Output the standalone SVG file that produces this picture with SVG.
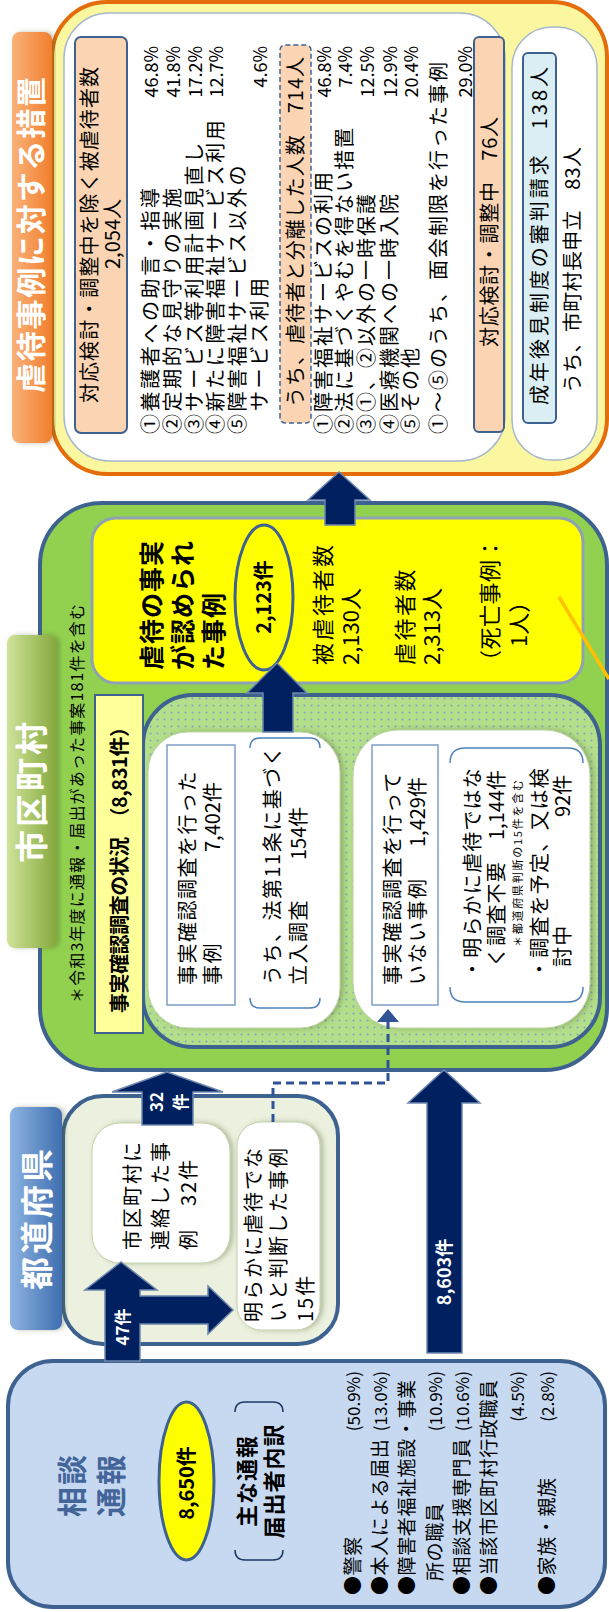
<svg xmlns="http://www.w3.org/2000/svg" width="609" height="1612" viewBox="0 0 609 1612">
<style>
.j{font-family:"Noto Sans CJK JP","Noto Sans CJK SC",sans-serif;fill:#000}
.b{font-weight:bold}
.f20{font-size:20px}
.l1{font-size:20px;letter-spacing:2.6px}
.l2{font-size:20px;letter-spacing:2px}
.pc{font-size:18px;text-anchor:end}
.s19{font-size:19px;letter-spacing:0.6px}
.sp{font-size:17px;text-anchor:end}
.m{text-anchor:middle}
.arr{fill:#002060;stroke:#6d87ad;stroke-width:1.5}
.wb{fill:#fff;stroke:#a6b8cc;stroke-width:1.5}
.br{fill:none;stroke:#4f81bd;stroke-width:1.5}
</style>
<defs>
<linearGradient id="gOr" x1="0" y1="0" x2="0" y2="1"><stop offset="0" stop-color="#fab27a"/><stop offset="1" stop-color="#f07f2c"/></linearGradient>
<linearGradient id="gGr" x1="0" y1="0" x2="0" y2="1"><stop offset="0" stop-color="#d0e39a"/><stop offset="1" stop-color="#84a83c"/></linearGradient>
<linearGradient id="gBl" x1="0" y1="0" x2="0" y2="1"><stop offset="0" stop-color="#8db4e2"/><stop offset="1" stop-color="#3f6fb0"/></linearGradient>
<pattern id="dots" width="7" height="7" patternUnits="userSpaceOnUse"><rect width="7" height="7" fill="#b3de8a"/><circle cx="3.5" cy="3.5" r="0.9" fill="#7f9fc4"/></pattern>
<filter id="sh" x="-10%" y="-10%" width="120%" height="120%"><feDropShadow dx="0" dy="3" stdDeviation="2.5" flood-color="#4a5a30" flood-opacity="0.35"/></filter>
</defs>
<g transform="translate(0,1612) rotate(-90)">

<g id="soudan">
<rect x="5" y="8" width="246" height="597" rx="45" fill="#c6d9f1" stroke="#3e6290" stroke-width="4"/>
<text class="j b" x="127" y="83" font-size="30" letter-spacing="2" style="fill:#44659a" text-anchor="middle">相談</text>
<text class="j b" x="127" y="122" font-size="30" letter-spacing="2" style="fill:#44659a" text-anchor="middle">通報</text>
<ellipse cx="131" cy="186.5" rx="79" ry="27.5" fill="#ffff00" stroke="#3e6290" stroke-width="3"/>
<text class="j b m" x="129" y="194" font-size="20">8,650件</text>
<path class="br" style="stroke:#1f3864" d="M62,235 Q52,235 52,245 L52,273 Q52,283 62,283 M200,235 Q210,235 210,245 L210,273 Q210,283 200,283"/>
<text class="j b m" x="131" y="255" font-size="22" letter-spacing="1">主な通報</text>
<text class="j b m" x="131" y="282" font-size="22" letter-spacing="1">届出者内訳</text>
<text class="j s19" x="17" y="360">●警察</text>
<text class="j s19" x="17" y="387">●本人による届出</text>
<text class="j s19" x="17" y="414">●障害者福祉施設・事業</text>
<text class="j s19" x="31" y="442">所の職員</text>
<text class="j s19" x="17" y="469">●相談支援専門員</text>
<text class="j s19" x="17" y="496">●当該市区町村行政職員</text>
<text class="j s19" x="17" y="554">●家族・親族</text>
<text class="j sp" x="241" y="360">(50.9%)</text>
<text class="j sp" x="241" y="387">(13.0%)</text>
<text class="j sp" x="241" y="442">(10.9%)</text>
<text class="j sp" x="241" y="469">(10.6%)</text>
<text class="j sp" x="241" y="524">(4.5%)</text>
<text class="j sp" x="241" y="554">(2.8%)</text>
</g>

<g id="todofuken">
<rect x="268" y="63" width="248" height="275" rx="40" fill="#ebf1de" stroke="#3e6290" stroke-width="4"/>
<rect x="282" y="10" width="223" height="52" rx="8" fill="url(#gBl)" filter="url(#sh)"/>
<text class="j b m" x="394" y="49" font-size="33" letter-spacing="3" style="fill:#fff">都道府県</text>
<rect x="349" y="92" width="140" height="138" rx="28" fill="#fff" stroke="#c4d1a8" stroke-width="1" filter="url(#sh)"/>
<text class="j f20" x="362" y="140" letter-spacing="2">市区町村に</text>
<text class="j f20" x="362" y="168" letter-spacing="2">連絡した事</text>
<text class="j f20" x="362" y="196" letter-spacing="2">例　32件</text>
<rect x="282" y="237" width="208" height="83" rx="24" fill="#fff" stroke="#c4d1a8" stroke-width="1" filter="url(#sh)"/>
<text class="j f20" x="290" y="261" letter-spacing="2">明らかに虐待でな</text>
<text class="j f20" x="290" y="286" letter-spacing="2">いと判断した事例</text>
<text class="j f20" x="290" y="313" letter-spacing="2">15件</text>
</g>

<g id="shikuchoson">
<rect x="542" y="40" width="567" height="567" rx="62" fill="#92d050" stroke="#3e6290" stroke-width="4"/>
<rect x="664" y="7" width="313" height="50" rx="8" fill="url(#gGr)" filter="url(#sh)"/>
<text class="j b m" x="821" y="44" font-size="33" letter-spacing="3" style="fill:#fff">市区町村</text>
<text class="j" x="609" y="83" font-size="16" textLength="399" lengthAdjust="spacing">＊令和3年度に通報・届出があった事案181件を含む</text>
<rect x="565" y="143" width="352" height="457" rx="50" fill="url(#dots)" stroke="#3e6290" stroke-width="4"/>
<rect x="579" y="95" width="338" height="48" fill="#ffff99" stroke="#3e6290" stroke-width="2"/>
<text class="j b" x="599" y="127" font-size="20" textLength="296" lengthAdjust="spacing">事実確認調査の状況　（8,831件）</text>

<rect x="584" y="148" width="296" height="192" rx="40" fill="#fff" stroke="#bcd3a0" stroke-width="1" filter="url(#sh)"/>
<rect x="607" y="167" width="260" height="68" fill="#fff" stroke="#7f9fc7" stroke-width="1.5"/>
<text class="j f20" x="627" y="195" letter-spacing="1.5">事実確認調査を行った</text>
<text class="j f20" x="627" y="220" letter-spacing="1.5">事例</text>
<text class="j f20" x="760" y="220">7,402件</text>
<path class="br" d="M614,250 Q604,250 604,260 L604,310 Q604,320 614,320 M864,250 Q874,250 874,260 L874,310 Q874,320 864,320"/>
<text class="j f20" x="627" y="280" letter-spacing="1.5">うち、法第11条に基づく</text>
<text class="j f20" x="627" y="306" letter-spacing="1.5">立入調査</text>
<text class="j f20" x="752" y="306">154件</text>

<rect x="584" y="353" width="298" height="237" rx="45" fill="#fff" stroke="#bcd3a0" stroke-width="1" filter="url(#sh)"/>
<rect x="607" y="372" width="260" height="66" fill="#fff" stroke="#7f9fc7" stroke-width="1.5"/>
<text class="j f20" x="627" y="400" letter-spacing="1.5">事実確認調査を行って</text>
<text class="j f20" x="627" y="425" letter-spacing="1.5">いない事例</text>
<text class="j f20" x="765" y="425">1,429件</text>
<path class="br" d="M625,450 Q610,450 610,465 L610,568 Q610,583 625,583 M849,450 Q864,450 864,465 L864,568 Q864,583 849,583"/>
<text class="j f20" x="633" y="480" letter-spacing="1.2">・明らかに虐待ではな</text>
<text class="j f20" x="645" y="504" letter-spacing="1.2">く調査不要</text>
<text class="j f20" x="772" y="504">1,144件</text>
<text class="j" x="665" y="522" font-size="11" textLength="167" lengthAdjust="spacing">＊都道府県判断の15件を含む</text>
<text class="j f20" x="633" y="547" letter-spacing="1.2">・調査を予定、又は検</text>
<text class="j f20" x="645" y="570" letter-spacing="1.2">討中</text>
<text class="j f20" x="795" y="570">92件</text>

<rect x="929" y="92" width="165" height="491" rx="24" fill="#ffff00" stroke="#8da2b5" stroke-width="3"/>
<text class="j b" x="942" y="161" font-size="25" letter-spacing="1">虐待の事実</text>
<text class="j b" x="942" y="192" font-size="25" letter-spacing="1">が認められ</text>
<text class="j b" x="942" y="223" font-size="25" letter-spacing="1">た事例</text>
<ellipse cx="1014.5" cy="264" rx="72.5" ry="29" fill="#ffff00" stroke="#3e6290" stroke-width="3"/>
<text class="j b m" x="1015" y="271" font-size="20">2,123件</text>
<text class="j" x="947" y="331" font-size="22" letter-spacing="2.5">被虐待者数</text>
<text class="j" x="947" y="359" font-size="22">2,130人</text>
<text class="j" x="947" y="413" font-size="22" letter-spacing="2.5">虐待者数</text>
<text class="j" x="947" y="440" font-size="22">2,313人</text>
<text class="j" x="940" y="498" font-size="22" letter-spacing="0.5">（死亡事例：</text>
<text class="j" x="965" y="527" font-size="22">1人）</text>
<line x1="1015" y1="559" x2="933" y2="609" stroke="#ffc000" stroke-width="3.5"/>
</g>

<g id="sochi">
<rect x="1138" y="52" width="472" height="555" rx="55" fill="#fbf7a0" stroke="#e46c0a" stroke-width="4"/>
<rect x="1151" y="64" width="448" height="441" rx="45" class="wb"/>
<rect x="1152" y="512" width="433" height="85" rx="40" class="wb"/>
<rect x="1169" y="12" width="411" height="40" rx="8" fill="url(#gOr)" filter="url(#sh)"/>
<text class="j b m" x="1377" y="42" font-size="30" textLength="316" lengthAdjust="spacing" style="fill:#fff">虐待事例に対する措置</text>

<rect x="1179" y="75" width="396" height="52" rx="6" fill="#fbd4b4" stroke="#3e6290" stroke-width="2"/>
<text class="j m" x="1377" y="97" font-size="20" textLength="336" lengthAdjust="spacing">対応検討・調整中を除く被虐待者数</text>
<text class="j m" x="1378" y="120" font-size="20">2,054人</text>

<text class="j l1" x="1178" y="158">①養護者への助言・指導</text>
<text class="j l1" x="1178" y="180">②定期的な見守りの実施</text>
<text class="j l1" x="1178" y="202">③サービス等利用計画見直し</text>
<text class="j l1" x="1178" y="223">④新たに障害福祉サービス利用</text>
<text class="j l1" x="1178" y="245">⑤障害福祉サービス以外の</text>
<text class="j l1" x="1201" y="267">サービス利用</text>
<text class="j pc" x="1566" y="158">46.8%</text>
<text class="j pc" x="1566" y="180">41.8%</text>
<text class="j pc" x="1566" y="202">17.2%</text>
<text class="j pc" x="1566" y="223">12.7%</text>
<text class="j pc" x="1566" y="267">4.6%</text>

<rect x="1189" y="280" width="378" height="31" rx="5" fill="#fbd4b4" stroke="#3e6290" stroke-width="1.5" stroke-dasharray="5 3"/>
<text class="j" x="1205" y="303" font-size="20" textLength="350" lengthAdjust="spacing">うち、虐待者と分離した人数　714人</text>

<text class="j l2" x="1178" y="331">①障害福祉サービスの利用</text>
<text class="j l2" x="1178" y="352">②法に基づくやむを得ない措置</text>
<text class="j l2" x="1178" y="374">③①、②以外の一時保護</text>
<text class="j l2" x="1178" y="397">④医療機関への一時入院</text>
<text class="j l2" x="1178" y="418">⑤その他</text>
<text class="j l2" x="1178" y="446">①〜⑤のうち、面会制限を行った事例</text>
<text class="j pc" x="1566" y="331">46.8%</text>
<text class="j pc" x="1566" y="352">7.4%</text>
<text class="j pc" x="1566" y="374">12.5%</text>
<text class="j pc" x="1566" y="397">12.9%</text>
<text class="j pc" x="1566" y="418">20.4%</text>
<text class="j pc" x="1566" y="472">29.0%</text>

<rect x="1180" y="474" width="395" height="30" rx="5" fill="#fbd4b4" stroke="#3e6290" stroke-width="2"/>
<text class="j" x="1265" y="497" font-size="20" textLength="230" lengthAdjust="spacing">対応検討・調整中　76人</text>

<rect x="1189" y="523" width="370" height="33" rx="5" fill="#dbeef3" stroke="#3e6290" stroke-width="2"/>
<text class="j" x="1207" y="547" font-size="20" textLength="338" lengthAdjust="spacing">成年後見制度の審判請求　138人</text>
<text class="j" x="1219" y="580" font-size="20" textLength="246" lengthAdjust="spacing">うち、市町村長申立　83人</text>
</g>

<g id="connectors">
<polygon class="arr" points="251,105 322,105 322,85 350,121 322,157 322,140 316,140 316,208 326,208 302,233 278,208 288,208 288,140 251,140"/>
<text class="j b m" x="285" y="129" font-size="17" style="fill:#fff">47件</text>
<polygon class="arr" points="487,142 520,142 520,112 540,167 520,223 520,193 487,193"/>
<text class="j b m" x="510" y="163" font-size="17" style="fill:#fff">32</text>
<text class="j b m" x="510" y="187" font-size="17" style="fill:#fff">件</text>
<polygon class="arr" points="259,427 509,427 509,408 542,444 509,480 509,462 259,462"/>
<text class="j b m" x="340" y="451" font-size="18" style="fill:#fff">8,603件</text>
<path d="M490,273 L529,273 L529,388 L591,388" fill="none" stroke="#2f5496" stroke-width="3" stroke-dasharray="8 5"/>
<polygon points="590,377 603,388 590,399" fill="#2f5496"/>
<polygon class="arr" points="880,263 919,263 919,247 949,277 919,307 919,293 880,293"/>
<polygon class="arr" points="1087,325 1112,325 1112,308 1140,339 1112,370 1112,355 1087,355"/>
</g>

</g>
</svg>
